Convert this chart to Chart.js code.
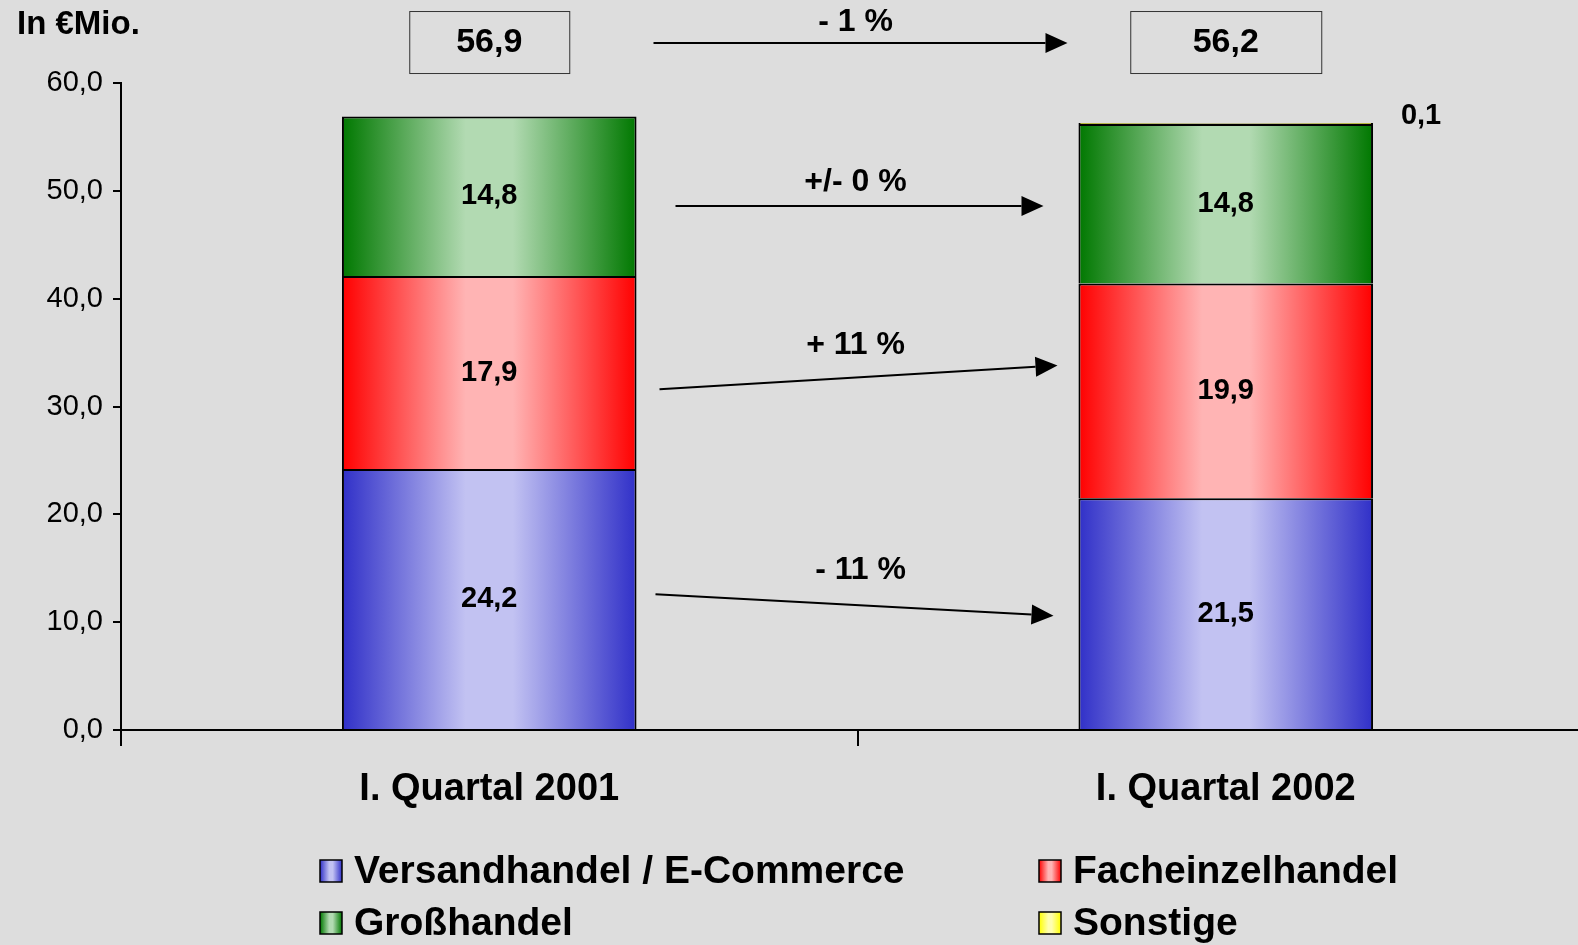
<!DOCTYPE html>
<html>
<head>
<meta charset="utf-8">
<script src="https://cdn.jsdelivr.net/npm/chart.js@4.4.1/dist/chart.umd.min.js"></script>
<style>
  html, body { margin: 0; padding: 0; background: #dddddd; overflow: hidden; }
  /* plot runs a little past the right edge, like the original */
  #wrap { width: 1594px; height: 945px; }
</style>
</head>
<body>
<div id="wrap"><canvas id="bar-chart"></canvas></div>
<script>
const categories = ['I. Quartal 2001', 'I. Quartal 2002'];
const versandhandel = [24.2, 21.5];
const facheinzelhandel = [17.9, 19.9];
const grosshandel = [14.8, 14.8];
const sonstige = [null, 0.1];
const totals = [56.9, 56.2];
const seriesNames = ['Versandhandel / E-Commerce', 'Facheinzelhandel', 'Großhandel', 'Sonstige'];
const changeLabels = ['- 11 %', '+ 11 %', '+/- 0 %'];
const totalChange = '- 1 %';
const yTicks = { min: 0, max: 60, step: 10 };

// edge colour, centre colour for the horizontal gradients
const fills = [
    ['#3030c8', '#c2c2f2'],
    ['#ff0000', '#ffb4b4'],
    ['#007800', '#b2dab2'],
    ['#ffff00', '#ffffb0']
];

const FONT = '"Liberation Sans", Arial, sans-serif';
const fmt = v => v.toFixed(1).replace('.', ',');

function makeGradient(ctx, x0, x1, pair) {
    const g = ctx.createLinearGradient(x0, 0, x1, 0);
    g.addColorStop(0, pair[0]);
    g.addColorStop(0.42, pair[1]);
    g.addColorStop(0.58, pair[1]);
    g.addColorStop(1, pair[0]);
    return g;
}

function barFill(di) {
    return function (c) {
        const chart = c.chart;
        if (!chart.chartArea) return fills[di][0];
        const xs = chart.scales.x;
        const cx = xs.getPixelForValue(c.dataIndex);
        const w = xs.width / categories.length * 0.4;
        return makeGradient(chart.ctx, cx - w / 2, cx + w / 2, fills[di]);
    };
}

// arrows between the bars, y in data units, x as offset from the middle tick
const arrows = [
    { x0: -202, y0: 12.6, x1: 196, y1: 10.6, label: changeLabels[0], lx: 3, ly: 14.8 },
    { x0: -198, y0: 31.6, x1: 200, y1: 33.8, label: changeLabels[1], lx: -2, ly: 35.7 },
    { x0: -182, y0: 48.6, x1: 186, y1: 48.6, label: changeLabels[2], lx: -2, ly: 50.8 },
    { x0: -204, y0: 63.7, x1: 210, y1: 63.7, label: totalChange, lx: -2, ly: 65.6 }
];
const boxWidths = [160, 191];

function drawArrow(ctx, x0, y0, x1, y1) {
    const a = Math.atan2(y1 - y0, x1 - x0);
    const len = 22, half = 10;
    const bx = x1 - len * Math.cos(a), by = y1 - len * Math.sin(a);
    ctx.beginPath();
    ctx.moveTo(x0, y0);
    ctx.lineTo(bx, by);
    ctx.lineWidth = 2;
    ctx.strokeStyle = '#000';
    ctx.stroke();
    ctx.beginPath();
    ctx.moveTo(x1, y1);
    ctx.lineTo(bx + half * Math.sin(a), by - half * Math.cos(a));
    ctx.lineTo(bx - half * Math.sin(a), by + half * Math.cos(a));
    ctx.closePath();
    ctx.fillStyle = '#000';
    ctx.fill();
}

const extras = {
    id: 'extras',
    afterDatasetsDraw(chart) {
        const ctx = chart.ctx;
        ctx.save();
        ctx.fillStyle = '#000';
        ctx.font = 'bold 29px ' + FONT;
        ctx.textAlign = 'center';
        ctx.textBaseline = 'middle';
        chart.data.datasets.forEach((ds, di) => {
            chart.getDatasetMeta(di).data.forEach((el, i) => {
                const v = ds.data[i];
                if (v == null) return;
                if (v < 1) {
                    ctx.fillText(fmt(v), el.x + el.width / 2 + 48, el.y - 7);
                } else {
                    ctx.fillText(fmt(v), el.x, (el.y + el.base) / 2);
                }
            });
        });
        ctx.restore();
    },
    afterDraw(chart) {
        const ctx = chart.ctx;
        const xs = chart.scales.x, ys = chart.scales.y;
        const mid = (xs.getPixelForValue(0) + xs.getPixelForValue(1)) / 2;
        ctx.save();

        // unit label
        ctx.fillStyle = '#000';
        ctx.font = 'bold 33px ' + FONT;
        ctx.textAlign = 'left';
        ctx.textBaseline = 'middle';
        ctx.fillText('In €Mio.', 17, 25);

        // totals in boxes
        const by = ys.getPixelForValue(63.8);
        totals.forEach((t, i) => {
            const cx = xs.getPixelForValue(i);
            const w = boxWidths[i];
            ctx.fillStyle = '#dddddd';
            ctx.fillRect(cx - w / 2, by - 31, w, 62);
            ctx.strokeStyle = '#333';
            ctx.lineWidth = 1;
            ctx.strokeRect(cx - w / 2 + 0.5, by - 31 + 0.5, w, 62);
            ctx.fillStyle = '#000';
            ctx.font = 'bold 34px ' + FONT;
            ctx.textAlign = 'center';
            ctx.fillText(fmt(t), cx, by + 1);
        });

        // change arrows
        arrows.forEach(a => {
            drawArrow(ctx, mid + a.x0, ys.getPixelForValue(a.y0), mid + a.x1, ys.getPixelForValue(a.y1));
            ctx.fillStyle = '#000';
            ctx.font = 'bold 32px ' + FONT;
            ctx.textAlign = 'center';
            ctx.fillText(a.label, mid + a.lx, ys.getPixelForValue(a.ly));
        });

        // legend, two columns
        const cols = [320, 1039], rows = [871, 923];
        seriesNames.forEach((name, i) => {
            const x = cols[i % 2], y = rows[Math.floor(i / 2)];
            ctx.fillStyle = makeGradient(ctx, x, x + 22, fills[i]);
            ctx.fillRect(x, y - 11, 22, 22);
            ctx.strokeStyle = '#000';
            ctx.lineWidth = 1.5;
            ctx.strokeRect(x, y - 11, 22, 22);
            ctx.fillStyle = '#000';
            ctx.font = 'bold 39px ' + FONT;
            ctx.textAlign = 'left';
            ctx.fillText(name, x + 34, y + 1);
        });
        ctx.restore();
    }
};

const ctx = document.getElementById('bar-chart');

new Chart(ctx, {
    type: 'bar',
    plugins: [extras],
    data: {
        labels: categories,
        datasets: [versandhandel, facheinzelhandel, grosshandel, sonstige].map((d, di) => ({
            label: seriesNames[di],
            data: d,
            backgroundColor: barFill(di),
            borderColor: '#000',
            borderWidth: 2,
            categoryPercentage: 1,
            barPercentage: 0.4
        }))
    },
    options: {
        responsive: true,
        maintainAspectRatio: false,
        animation: false,
        layout: { padding: { top: 83, right: 0, left: 0, bottom: 0 } },
        plugins: {
            legend: { display: false },
            tooltip: { enabled: false }
        },
        scales: {
            x: {
                stacked: true,
                afterFit: s => { s.height = 215; },
                grid: { drawOnChartArea: false, tickLength: 16, color: '#000', lineWidth: 2 },
                border: { color: '#000', width: 2 },
                ticks: { color: '#000', padding: 21, font: { family: FONT, size: 38, weight: 'bold' } }
            },
            y: {
                stacked: true,
                min: yTicks.min,
                max: yTicks.max,
                afterFit: s => { s.width = 121; },
                grid: { drawOnChartArea: false, tickLength: 8, color: '#000', lineWidth: 2 },
                border: { color: '#000', width: 2 },
                ticks: {
                    stepSize: yTicks.step,
                    color: '#000',
                    padding: 10,
                    font: { family: FONT, size: 29 },
                    callback: v => fmt(v)
                }
            }
        }
    }
});
</script>
</body>
</html>
